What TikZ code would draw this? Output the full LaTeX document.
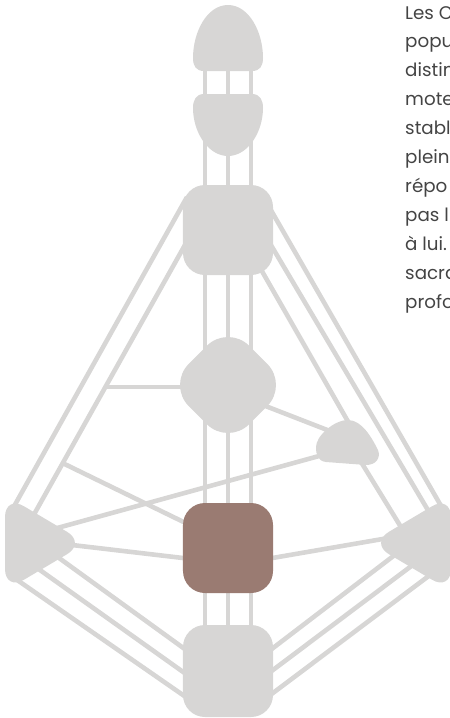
\documentclass[tikz,border=0pt]{standalone}
\usepackage{fontspec}
\setmainfont{Poppins}
\usepackage{xcolor}
\usetikzlibrary{shapes.geometric, positioning, backgrounds}

\definecolor{centregrey}{HTML}{D7D6D5}
\definecolor{sacralbrown}{HTML}{9A7B72}
\definecolor{textgrey}{HTML}{444444}

\tikzset{
  channel/.style={draw=centregrey, line width=0.138cm},
  squarecentre/.style={rectangle, fill=centregrey, minimum size=2.7cm,
                       rounded corners=0.66cm, inner sep=0pt},
  gcentre/.style={diamond, aspect=1, fill=centregrey, minimum size=3.63cm,
                  rounded corners=0.9cm, inner sep=0pt},
  textline/.style={anchor=base west, inner sep=0pt, text=textgrey,
                   font=\fontsize{15.6}{18}\selectfont}
}

\begin{document}
\begin{tikzpicture}[x=0.03cm, y=-0.03cm]
    \useasboundingbox (0,0) rectangle (450,718);
    \clip (0,0) rectangle (450,718);

    % Head and Ajna
    \coordinate (head) at (228,40);
    \fill[centregrey] (204,71) .. controls (196,71) and (193,66) .. (193,58)
      .. controls (193,32) and (207,5) .. (228,5)
      .. controls (249,5) and (263,32) .. (263,58)
      .. controls (263,66) and (260,71) .. (252,71) -- cycle;
    \coordinate (ajna) at (228,124);
    \fill[centregrey] (204,94) -- (252,94) .. controls (260,94) and (263,100) .. (263,108)
      .. controls (263,132) and (248,156) .. (228,156)
      .. controls (208,156) and (193,132) .. (193,108)
      .. controls (193,100) and (196,94) .. (204,94) -- cycle;

    % Throat, G, Sacral, Root
    \node[squarecentre] (throat) at (228,230) {};
    \node[gcentre] (g) at (228,385) {};
    \node[squarecentre, fill=sacralbrown] (sacral) at (228,548) {};
    \node[squarecentre, minimum height=2.76cm] (root) at (228,671) {};

    % Ego, Spleen, Solar plexus
    \coordinate (ego) at (347,443);
    \fill[centregrey] (316,447) .. controls (316,436) and (334,420) .. (348,420)
      .. controls (362,420) and (372,438) .. (378,450)
      .. controls (381,458) and (376,465) .. (366,465) -- (326,462)
      .. controls (318,461) and (316,455) .. (316,447) -- cycle;
    \coordinate (spleen) at (38,543);
    \fill[centregrey, rounded corners=0.66cm] (5,495) -- (86,543) -- (5,591) -- cycle;
    \coordinate (solar) at (418,543);
    \fill[centregrey, rounded corners=0.66cm] (451,495) -- (370,543) -- (451,591) -- cycle;

    % Channels, behind the centres
    \begin{scope}[on background layer]
      % spine
      \foreach \a/\b in {head/ajna, ajna/throat, throat/g, g/sacral, sacral/root}
        \foreach \dx in {-23,0,23}
          \draw[channel] ([shift={(\dx,0)}]\a.center) -- ([shift={(\dx,0)}]\b.center);

      % left wing
      \draw[channel] ([shift={(-41,-33)}]throat.center) -- ([shift={(-26,-33)}]spleen.center);
      \draw[channel] ([shift={(-38,6)}]throat.center) -- ([shift={(-6,-25)}]spleen.center);
      \coordinate (wing-g) at (105,387);
      \draw[channel] ([shift={(0,2)}]g.center) -- (wing-g);
      \coordinate (wing-sacral) at (62.5,463);
      \draw[channel] (wing-sacral) -- ([shift={(-28,-18)}]sacral.center);
      \draw[channel] ([shift={(17,0)}]spleen.center) -- ([shift={(-28,12)}]sacral.center);

      % ego
      \draw[channel] ([shift={(-17,10)}]ego.center) -- ([shift={(12,-13)}]spleen.center);
      \draw[channel] ([shift={(22,15)}]g.center) -- ([shift={(-12,-10)}]ego.center);
      \draw[channel] ([shift={(27,29)}]throat.center) -- ([shift={(3,-18)}]ego.center);
      \draw[channel] ([shift={(11,14)}]ego.center) -- ([shift={(-14,-11)}]solar.center);

      % right wing
      \draw[channel] ([shift={(37.5,-29.3)}]throat.center) -- ([shift={(34,-18)}]solar.center);
      \draw[channel] ([shift={(37,5)}]throat.center) -- ([shift={(14,-26)}]solar.center);
      \draw[channel] ([shift={(27,13)}]sacral.center) -- ([shift={(-18,-7)}]solar.center);

      % into the root
      \foreach \sx/\sy/\rx/\ry in {-28/32/-35/31, -3/23.5/-35/8, 19/13.5/-35/-16}
        \draw[channel] ([shift={(\sx,\sy)}]spleen.center) -- ([shift={(\rx,\ry)}]root.center);
      \foreach \sx/\sy/\rx/\ry in {16.8/28.4/35.4/29.2, -3.2/20.4/35.4/6.2, -21.2/10.4/35.5/-15.7}
        \draw[channel] ([shift={(\sx,\sy)}]solar.center) -- ([shift={(\rx,\ry)}]root.center);
    \end{scope}

    % Text column, cut at the right edge
    \foreach \word [count=\i from 0] in {Les C, popu, distin, mote, stabl, plein, répo, pas l, à lui., sacra, profo}
      \node[textline] (line\i) at (405,{19+28.9*\i}) {\word};
\end{tikzpicture}
\end{document}
